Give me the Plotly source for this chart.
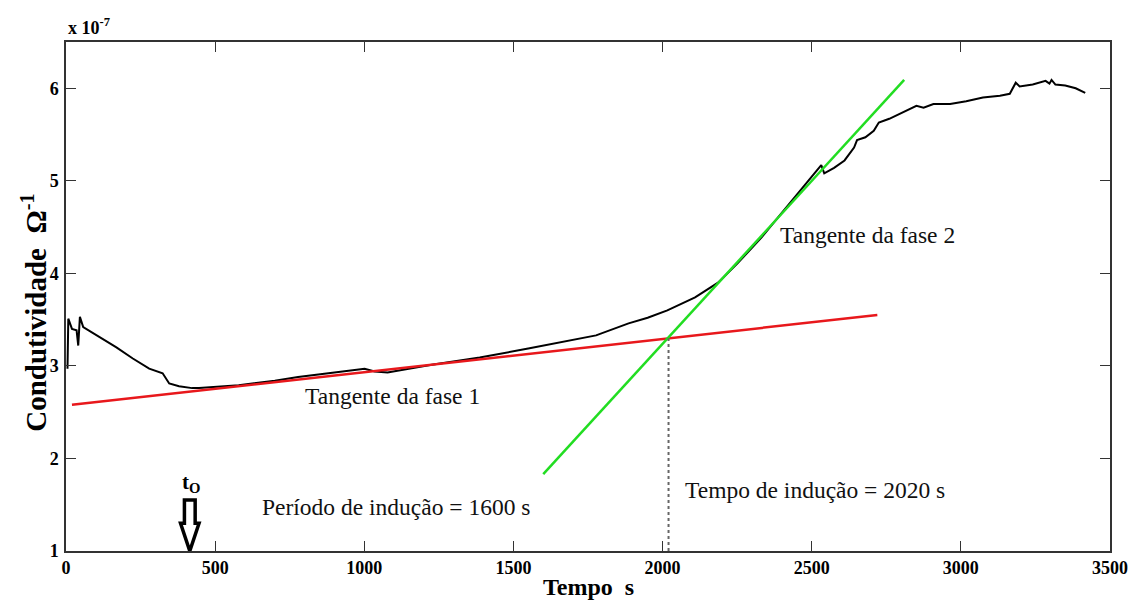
import plotly.graph_objects as go

# Conductivity curve (values in units of 1e-7 ohm^-1) versus time in seconds
tempo = [5, 7.7, 20, 35.5, 41, 46.6, 57.7, 113, 169, 224, 268, 279, 324, 335, 346, 379,
         423, 446, 501, 579, 700, 778, 900, 1001, 1035, 1078, 1221, 1387, 1554, 1667,
         1777, 1886, 1950, 2016, 2109, 2186, 2252, 2332, 2399, 2465, 2509, 2532, 2542, 2575,
         2610, 2642, 2652, 2680, 2708, 2725, 2760, 2798, 2851, 2875, 2908, 2964, 3018,
         3074, 3131, 3164, 3184, 3197, 3241, 3284, 3297, 3304, 3317, 3350, 3385, 3417]
condutividade = [2.97, 3.51, 3.40, 3.385, 3.22, 3.53, 3.42, 3.31, 3.20, 3.08, 2.99, 2.97,
                 2.92, 2.87, 2.81, 2.78, 2.76, 2.76, 2.77, 2.79, 2.84, 2.88, 2.93, 2.97,
                 2.94, 2.93, 3.01, 3.09, 3.19, 3.26, 3.33, 3.46, 3.52, 3.60, 3.74, 3.90, 4.11,
                 4.39, 4.65, 4.90, 5.08, 5.17, 5.08, 5.14, 5.22, 5.36, 5.44, 5.47, 5.54,
                 5.63, 5.67, 5.73, 5.81, 5.79, 5.83, 5.83, 5.86, 5.90, 5.92, 5.94, 6.06,
                 6.02, 6.04, 6.08, 6.05, 6.09, 6.04, 6.03, 6.00, 5.95]

# Tangent lines for phase 1 and phase 2
tang1_t = [20, 2720]
tang1_v = [2.58, 3.55]
tang2_t = [1600, 2810]
tang2_v = [1.83, 6.09]

# Induction time (intersection of tangents) and start time t0
t_inducao = 2020
v_inducao = 3.30
t_zero = 415

x_ticks = [0, 500, 1000, 1500, 2000, 2500, 3000, 3500]
y_ticks = [1, 2, 3, 4, 5, 6]

SERIF = "Liberation Serif, Times New Roman, serif"
W, H = 1140, 603
ML, MR, MT, MB = 66, 22, 42, 52

fig = go.Figure()

fig.add_trace(go.Scatter(x=tempo, y=condutividade, mode="lines",
                         line=dict(color="black", width=2), showlegend=False))
fig.add_trace(go.Scatter(x=tang1_t, y=tang1_v, mode="lines",
                         line=dict(color="#e8181c", width=2.5), showlegend=False))
fig.add_trace(go.Scatter(x=tang2_t, y=tang2_v, mode="lines",
                         line=dict(color="#22dd22", width=2.5), showlegend=False))
fig.add_trace(go.Scatter(x=[t_inducao, t_inducao], y=[1, v_inducao], mode="lines",
                         line=dict(color="#666666", width=2, dash="dot"), showlegend=False))

# Hollow downward arrow marking t0
hw_shaft, hw_head = 18, 31
y_top, y_neck, y_tip = 1.55, 1.30, 1.0
arrow_path = (f"M {t_zero - hw_shaft},{y_top} L {t_zero + hw_shaft},{y_top} "
              f"L {t_zero + hw_shaft},{y_neck} L {t_zero + hw_head},{y_neck} "
              f"L {t_zero},{y_tip} L {t_zero - hw_head},{y_neck} "
              f"L {t_zero - hw_shaft},{y_neck} Z")
fig.add_shape(type="path", path=arrow_path, xref="x", yref="y",
              line=dict(color="black", width=3.5), fillcolor="white")

txt = dict(family=SERIF, size=23.5, color="#111111")
fig.add_annotation(x=1095, y=2.68, xref="x", yref="y", text="Tangente da fase 1",
                   showarrow=False, font=txt)
fig.add_annotation(x=2688, y=4.41, xref="x", yref="y", text="Tangente da fase 2",
                   showarrow=False, font=txt)
fig.add_annotation(x=1105, y=1.475, xref="x", yref="y",
                   text="Período de indução = 1600 s", showarrow=False, font=txt)
fig.add_annotation(x=2069, y=1.66, xref="x", yref="y", xanchor="left",
                   text="Tempo de indução = 2020 s", showarrow=False, font=txt)
fig.add_annotation(x=t_zero + 5, y=1.73, xref="x", yref="y",
                   text="<b>t<sub>O</sub></b>", showarrow=False,
                   font=dict(family=SERIF, size=21, color="black"))

# Exponent label and axis titles
fig.add_annotation(x=0, y=1.0, xref="paper", yref="paper", xanchor="left", yanchor="bottom",
                   yshift=2, text="<b>x 10<sup>-7</sup></b>", showarrow=False,
                   font=dict(family=SERIF, size=18, color="black"))
fig.add_annotation(x=(33 - ML) / (W - ML - MR), y=0.5, xref="paper", yref="paper",
                   xanchor="center", yshift=-16,
                   text="<b>Condutividade  Ω<sup>-1</sup></b>", showarrow=False, textangle=-90,
                   font=dict(family=SERIF, size=29, color="black"))
fig.add_annotation(x=0.5, y=0, xref="paper", yref="paper", yanchor="bottom", yshift=-(MB - 1),
                   text="<b>Tempo  s</b>", showarrow=False,
                   font=dict(family=SERIF, size=24, color="black"))

axis_common = dict(showgrid=False, zeroline=False, showline=True, linecolor="#333333",
                   linewidth=1.5, mirror="allticks", ticks="inside", ticklen=10,
                   tickwidth=1.2, tickcolor="#333333",
                   tickfont=dict(family=SERIF, size=18, color="black"))

fig.update_layout(
    width=W, height=H,
    margin=dict(l=ML, r=MR, t=MT, b=MB),
    paper_bgcolor="white", plot_bgcolor="white",
    xaxis=dict(range=[0, 3500], tickvals=x_ticks, ticktext=[f"<b>{v}</b>" for v in x_ticks],
               **axis_common),
    yaxis=dict(range=[1, 6.5], tickvals=y_ticks, ticktext=[f"<b>{v}</b>" for v in y_ticks],
               ticklabelstandoff=2, **axis_common),
)

fig.write_html("out.html")
